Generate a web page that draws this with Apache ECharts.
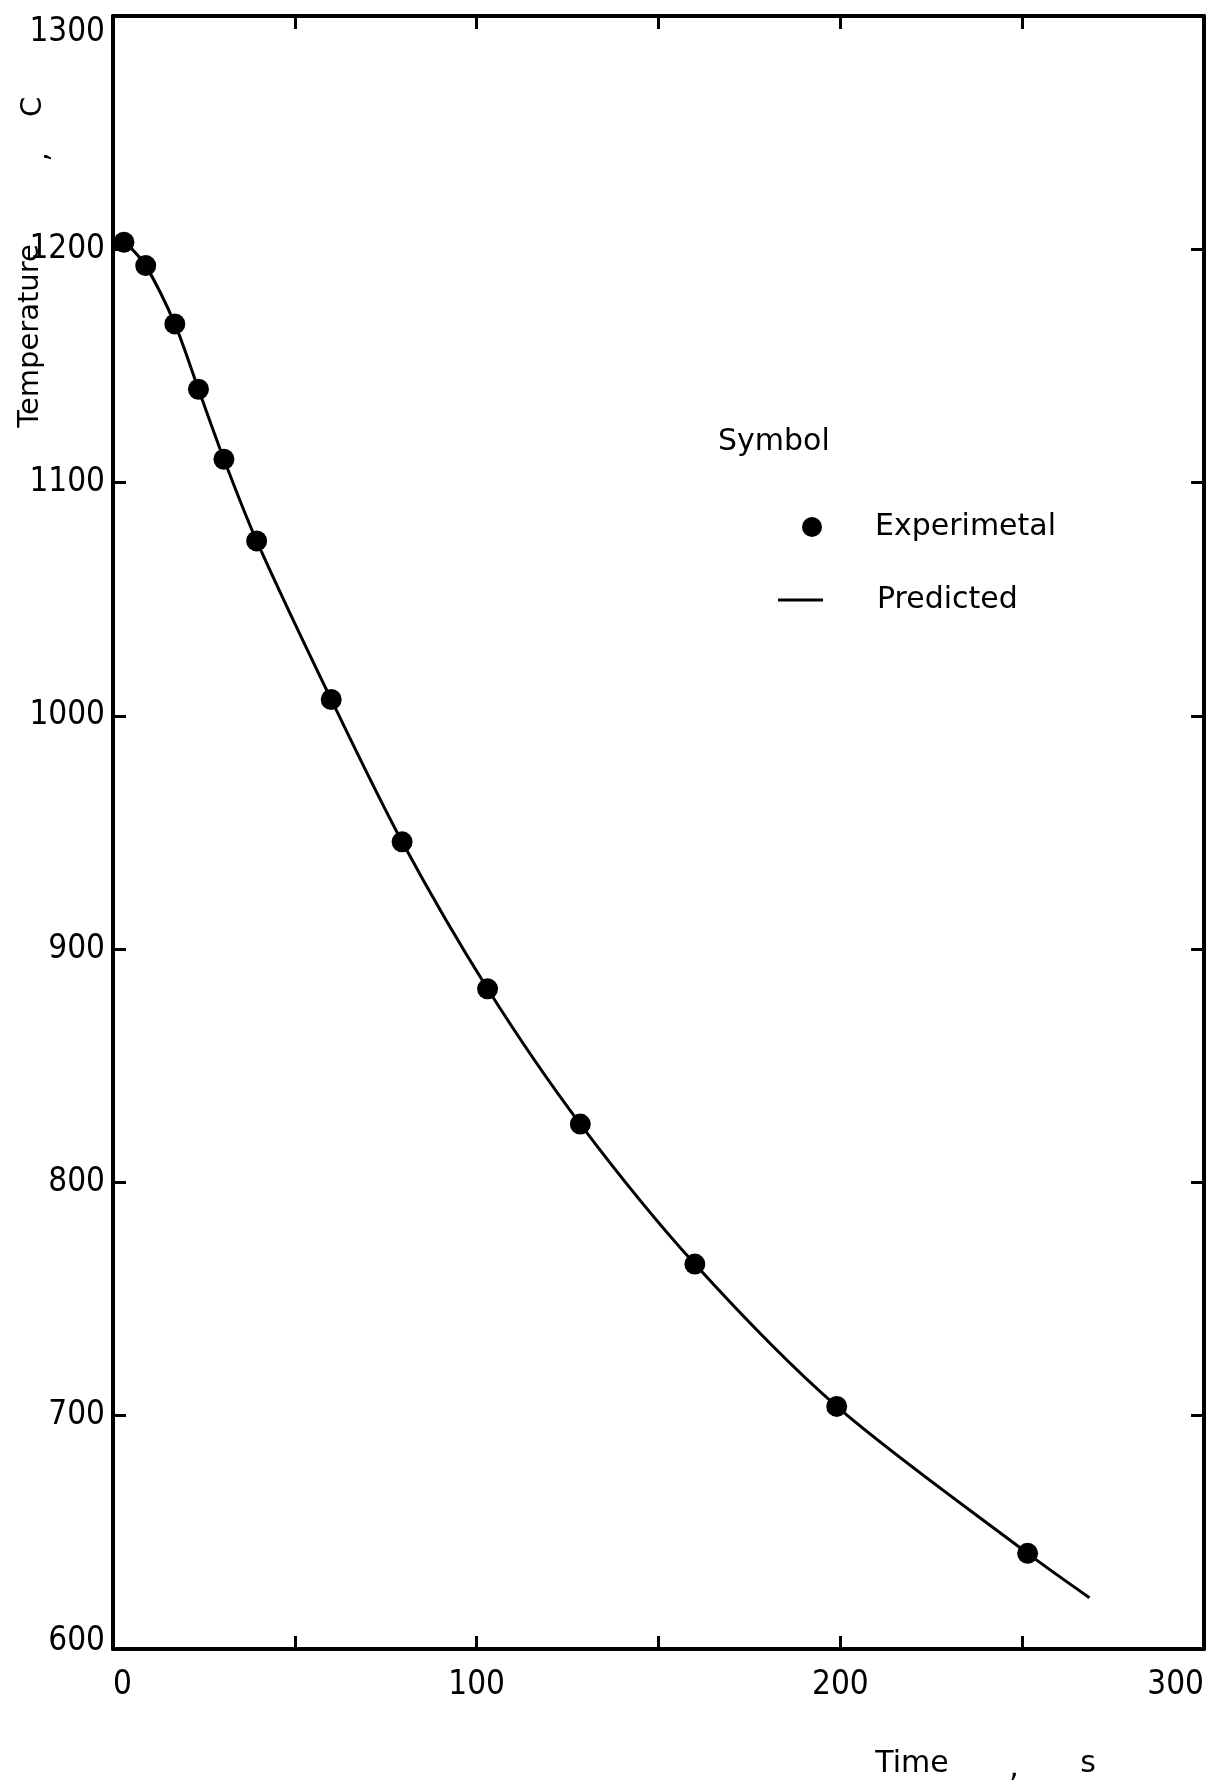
<!DOCTYPE html>
<html>
<head>
<meta charset="utf-8">
<script src="https://cdn.jsdelivr.net/npm/echarts@6/dist/echarts.min.js"></script>
<style>
  html, body { margin: 0; padding: 0; background: #fff; }
  #chart { width: 1218px; height: 1787px; }
</style>
</head>
<body>
<div id="chart"></div>
<script>
// Measured cooling curve: time (s) and temperature (C)
const expTime = [3, 9, 17, 23.5, 30.5, 39.5, 60, 79.5, 103, 128.5, 160, 199, 251.5];
const expTemp = [1203, 1193, 1168, 1140, 1110, 1075, 1007, 946, 883, 825, 765, 704, 641];

// Model prediction
const predTime = [4, 9, 17, 23.5, 30.5, 39.5, 60, 79.5, 103, 128.5, 160, 199, 251.5, 268.5];
const predTemp = [1202, 1193, 1168, 1140, 1110, 1075, 1007, 946, 883, 825, 765, 704, 641, 622];

// Axis ranges and labelled ticks
const xRange = [0, 300];
const xLabelled = [0, 100, 200, 300];
const yRange = [600, 1300];

const tickFont = "'Liberation Sans Narrow', 'DejaVu Sans Condensed', sans-serif";
const textFont = "'DejaVu Sans', sans-serif";

const frameLine = { show: true, onZero: false, lineStyle: { color: '#000', width: 4 } };
const frameTick = { show: true, inside: true, length: 13, lineStyle: { color: '#000', width: 3 } };

const chart = echarts.init(document.getElementById('chart'), null, { renderer: 'canvas' });

chart.setOption({
  animation: false,
  backgroundColor: '#fff',
  grid: { left: 113, right: 14, top: 16, bottom: 138, containLabel: false, outerBoundsMode: 'none' },
  title: {
    text: 'Symbol', left: 718, top: 427, padding: 0,
    textStyle: { fontFamily: textFont, fontSize: 30, fontWeight: 'normal', color: '#000' }
  },
  legend: [
    {
      data: ['Experimetal'], left: 802, top: 512, padding: 0,
      itemWidth: 20, itemHeight: 20, icon: 'circle', selectedMode: false,
      itemStyle: { color: '#000', opacity: 1 },
      textStyle: { fontFamily: textFont, fontSize: 30, color: '#000', padding: [0, 0, 0, 48] }
    },
    {
      data: ['Predicted'], left: 778, top: 585, padding: 0,
      itemWidth: 45, itemHeight: 20, selectedMode: false,
      icon: 'path://M0,0 L45,0 L45,3 L0,3 Z', symbolKeepAspect: true,
      itemStyle: { color: '#000' },
      textStyle: { fontFamily: textFont, fontSize: 30, color: '#000', padding: [0, 0, 0, 49] }
    }
  ],
  xAxis: [
    {
      type: 'value', position: 'bottom', min: xRange[0], max: xRange[1], interval: 50,
      axisLine: frameLine, axisTick: frameTick, splitLine: { show: false },
      axisLabel: {
        margin: 20, color: '#000', fontFamily: tickFont, fontSize: 33,
        alignMinLabel: 'left', alignMaxLabel: 'right',
        formatter: v => xLabelled.includes(v) ? String(v) : ''
      }
    },
    {
      type: 'value', position: 'top', min: xRange[0], max: xRange[1], interval: 50,
      axisLine: frameLine, axisTick: frameTick, splitLine: { show: false },
      axisLabel: { show: false }
    }
  ],
  yAxis: [
    {
      type: 'value', position: 'left', min: yRange[0], max: yRange[1], interval: 100,
      axisLine: frameLine, axisTick: frameTick, splitLine: { show: false },
      axisLabel: {
        margin: 8, color: '#000', fontFamily: tickFont, fontSize: 33,
        verticalAlignMaxLabel: 'top',
        formatter: v => v === yRange[0] ? '{low|' + v + '}' : String(v),
        rich: { low: { fontFamily: tickFont, fontSize: 33, color: '#000', padding: [0, 0, 16, 0] } }
      }
    },
    {
      type: 'value', position: 'right', min: yRange[0], max: yRange[1], interval: 100,
      axisLine: frameLine, axisTick: frameTick, splitLine: { show: false },
      axisLabel: { show: false }
    }
  ],
  series: [
    {
      name: 'Predicted', type: 'line', xAxisIndex: 0, yAxisIndex: 0,
      data: predTime.map((t, i) => [t, predTemp[i]]),
      smooth: 0.3, symbol: 'none', z: 2,
      lineStyle: { color: '#000', width: 3 }, itemStyle: { color: '#000' }
    },
    {
      name: 'Experimetal', type: 'scatter', xAxisIndex: 0, yAxisIndex: 0,
      data: expTime.map((t, i) => [t, expTemp[i]]),
      symbol: 'circle', symbolSize: 21, z: 3,
      itemStyle: { color: '#000', opacity: 1 }
    }
  ],
  graphic: [
    { type: 'text', x: 912, y: 1764, style: { text: 'Time', font: '30px ' + textFont, fill: '#000', align: 'center', verticalAlign: 'middle' } },
    { type: 'text', x: 1014, y: 1768, style: { text: ',', font: '30px ' + textFont, fill: '#000', align: 'center', verticalAlign: 'middle' } },
    { type: 'text', x: 1088, y: 1764, style: { text: 's', font: '30px ' + textFont, fill: '#000', align: 'center', verticalAlign: 'middle' } },
    { type: 'text', x: 30, y: 336, rotation: Math.PI / 2, style: { text: 'Temperature', font: '29px ' + textFont, fill: '#000', align: 'center', verticalAlign: 'middle' } },
    { type: 'text', x: 40, y: 157, rotation: Math.PI / 2, style: { text: ',', font: '29px ' + textFont, fill: '#000', align: 'center', verticalAlign: 'middle' } },
    { type: 'text', x: 33, y: 107, rotation: Math.PI / 2, style: { text: 'C', font: '29px ' + textFont, fill: '#000', align: 'center', verticalAlign: 'middle' } }
  ]
});
</script>
</body>
</html>
